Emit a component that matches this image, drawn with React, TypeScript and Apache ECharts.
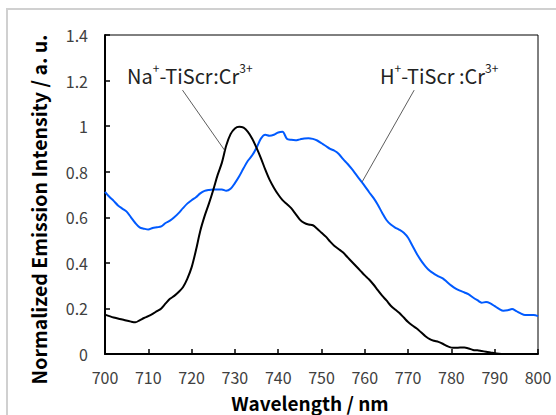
import React, { useEffect, useRef } from "react";
import * as echarts from "echarts";

const naX = [700,702,704,706,707,708,709,710,711,712,713,714,715,716,717,718,719,720,721,722,723,724,725,726,727,728,729,730,731,732,733,734,735,736,737,738,739,740,741,742,743,744,745,746,747,748,749,750,751,752,753,754,755,756,757,758,759,760,761,762,763,764,765,766,767,768,769,770,771,772,773,774,775,776,777,778,779,780,781,782,783,784,785,786,787,788,789,790,791,792,793];
const naY = [0.173,0.16,0.151,0.142,0.139,0.148,0.158,0.166,0.176,0.188,0.2,0.222,0.242,0.255,0.272,0.293,0.33,0.38,0.455,0.54,0.605,0.66,0.72,0.785,0.84,0.915,0.965,0.99,0.997,0.993,0.975,0.945,0.905,0.86,0.81,0.765,0.73,0.7,0.675,0.658,0.64,0.615,0.59,0.575,0.568,0.565,0.55,0.532,0.515,0.493,0.474,0.46,0.445,0.425,0.405,0.385,0.365,0.345,0.327,0.305,0.28,0.256,0.235,0.212,0.195,0.18,0.16,0.14,0.125,0.112,0.095,0.078,0.065,0.058,0.053,0.045,0.035,0.028,0.027,0.028,0.028,0.024,0.018,0.016,0.013,0.01,0.007,0.003,0.001,0,0];

const hX = [700,701,702,703,704,705,706,707,708,709,710,711,712,713,714,715,716,717,718,719,720,721,722,723,724,725,726,727,728,729,730,731,732,733,734,735,736,737,738,739,740,741,742,743,744,745,746,747,748,749,750,751,752,753,754,755,756,757,758,759,760,761,762,763,764,765,766,767,768,769,770,771,772,773,774,775,776,777,778,779,780,781,782,783,784,785,786,787,788,789,790,791,792,793,794,795,796,797,798,799,800];
const hY = [0.712,0.69,0.672,0.652,0.638,0.625,0.6,0.575,0.556,0.55,0.546,0.553,0.556,0.56,0.575,0.585,0.6,0.618,0.64,0.66,0.675,0.688,0.705,0.716,0.72,0.722,0.722,0.722,0.716,0.725,0.75,0.78,0.815,0.848,0.872,0.905,0.945,0.962,0.958,0.962,0.972,0.975,0.945,0.94,0.938,0.942,0.946,0.947,0.944,0.937,0.925,0.913,0.9,0.892,0.878,0.855,0.835,0.812,0.787,0.762,0.737,0.71,0.685,0.655,0.62,0.588,0.568,0.555,0.545,0.532,0.51,0.475,0.44,0.41,0.385,0.365,0.352,0.341,0.332,0.316,0.3,0.287,0.278,0.27,0.262,0.248,0.236,0.225,0.228,0.222,0.21,0.198,0.19,0.192,0.197,0.188,0.178,0.171,0.171,0.171,0.166];

const naLeader = [[717.9, 1.158], [727.7, 0.892]];
const hLeader = [[771.4, 1.158], [759.4, 0.756]];

const xTitle = "Wavelength / nm";
const yTitle = "Normalized Emission Intensity / a. u.";

const FONT = "'Noto Sans CJK JP', 'Noto Sans', sans-serif";

export default function App() {
  const ref = useRef<HTMLDivElement>(null);
  useEffect(() => {
    document.body.style.margin = "0";
    const chart = echarts.init(ref.current!, null, { renderer: "svg" });
    const leaderStyle = { color: "#333", width: 0.8, type: "solid" as const };
    const rich = {
      n: { fontSize: 20, fontFamily: FONT, fill: "#222", lineHeight: 24, verticalAlign: "bottom" },
      s: { fontSize: 12, fontFamily: FONT, fill: "#222", lineHeight: 21, verticalAlign: "top" },
    };
    chart.setOption({
      animation: false,
      grid: { left: 105, right: 18, top: 35, bottom: 61, show: true, borderColor: "#000", borderWidth: 1 },
      xAxis: {
        type: "value", min: 700, max: 800, interval: 10,
        axisLine: { show: true, lineStyle: { color: "#000", width: 2 } },
        axisTick: { show: true, inside: true, length: 5, lineStyle: { color: "#000", width: 1.5 } },
        axisLabel: { margin: 15, fontSize: 16, color: "#404040", fontFamily: FONT },
        splitLine: { show: false },
      },
      yAxis: {
        type: "value", min: 0, max: 1.4, interval: 0.2,
        axisLine: { show: true, lineStyle: { color: "#000", width: 2 } },
        axisTick: { show: true, inside: true, length: 5, lineStyle: { color: "#000", width: 1.5 } },
        axisLabel: { margin: 17, fontSize: 16, color: "#404040", fontFamily: FONT },
        splitLine: { show: false },
      },
      series: [
        {
          type: "line", name: "H+-TiScr:Cr3+", data: hX.map((x, i) => [x, hY[i]]),
          showSymbol: false, smooth: 0.3, lineStyle: { color: "#005AFF", width: 2 },
          markLine: { silent: true, symbol: "none", label: { show: false }, lineStyle: leaderStyle,
            data: [[{ coord: hLeader[0] }, { coord: hLeader[1] }]] },
        },
        {
          type: "line", name: "Na+-TiScr:Cr3+", data: naX.map((x, i) => [x, naY[i]]),
          showSymbol: false, smooth: 0.3, lineStyle: { color: "#000", width: 2 },
          markLine: { silent: true, symbol: "none", label: { show: false }, lineStyle: leaderStyle,
            data: [[{ coord: naLeader[0] }, { coord: naLeader[1] }]] },
        },
      ],
      graphic: [
        { type: "rect", shape: { x: 7, y: 9, width: 620, height: 500 }, style: { fill: "none", stroke: "#d0d0d0", lineWidth: 2 }, silent: true },
        {
          type: "text", x: 127, y: 73,
          style: { text: "{n|Na}{s|+}{n|-TiScr:Cr}{s|3+}", verticalAlign: "middle", align: "left", rich },
        },
        {
          type: "text", x: 380, y: 73,
          style: { text: "{n|H}{s|+}{n|-TiScr :Cr}{s|3+}", verticalAlign: "middle", align: "left", rich },
        },
        {
          type: "text", x: 310, y: 402,
          style: { text: xTitle, fontSize: 19, fontWeight: "bold", fontFamily: FONT, fill: "#000", align: "center", verticalAlign: "middle" },
        },
        {
          type: "text", x: 38.5, y: 209.5, rotation: Math.PI / 2,
          style: { text: yTitle, fontSize: 19.5, fontWeight: "bold", fontFamily: FONT, fill: "#000", align: "center", verticalAlign: "middle" },
        },
      ],
    });
    return () => chart.dispose();
  }, []);
  return <div ref={ref} style={{ width: 556, height: 415 }} />;
}
